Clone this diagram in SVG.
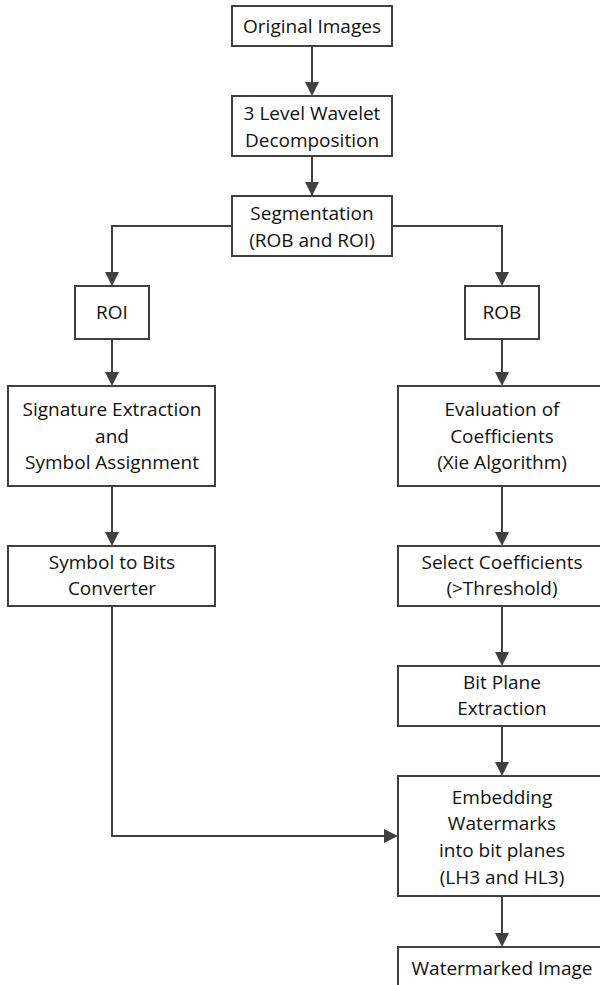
<svg xmlns="http://www.w3.org/2000/svg" width="600" height="985" viewBox="0 0 600 985">
<style>
.box{fill:#ffffff;stroke:#404040;stroke-width:2}
.lbl{font-family:"Open Sans","Liberation Sans",sans-serif;font-size:19px;fill:#111111;text-anchor:middle}
.con{fill:none;stroke:#404040;stroke-width:2;marker-end:url(#ah)}
</style>
<defs>
<marker id="ah" markerUnits="userSpaceOnUse" markerWidth="14" markerHeight="14" viewBox="0 0 14 14" refX="10" refY="7" orient="auto">
<path d="M0,0 L14,7 L0,14 z" fill="#404040"/>
</marker>
</defs>
<rect width="600" height="985" fill="#ffffff"/>
<g id="connectors">
<path class="con" d="M312,46 L312,92"/>
<path class="con" d="M312,156 L312,192"/>
<path class="con" d="M232,226 L112,226 L112,282"/>
<path class="con" d="M392,226 L502,226 L502,282"/>
<path class="con" d="M112,339 L112,382"/>
<path class="con" d="M112,486 L112,542"/>
<path class="con" d="M502,339 L502,382"/>
<path class="con" d="M502,486 L502,542"/>
<path class="con" d="M502,606 L502,662"/>
<path class="con" d="M502,726 L502,772"/>
<path class="con" d="M112,606 L112,836 L394,836"/>
<path class="con" d="M502,896 L502,943"/>
</g>
<g id="n1"><rect class="box" x="232" y="6" width="160" height="40"/><text class="lbl" x="312" y="33">Original Images</text></g>
<g id="n2"><rect class="box" x="232" y="96" width="160" height="60"/><text class="lbl" x="312" y="120">3 Level Wavelet</text><text class="lbl" x="312" y="147">Decomposition</text></g>
<g id="n3"><rect class="box" x="232" y="196" width="160" height="60"/><text class="lbl" x="312" y="220">Segmentation</text><text class="lbl" x="312" y="247">(ROB and ROI)</text></g>
<g id="n4"><rect class="box" x="75" y="286" width="74" height="53"/><text class="lbl" x="112" y="319">ROI</text></g>
<g id="n5"><rect class="box" x="465" y="286" width="74" height="53"/><text class="lbl" x="502" y="319">ROB</text></g>
<g id="n6"><rect class="box" x="8" y="386" width="207" height="100"/><text class="lbl" x="112" y="416">Signature Extraction</text><text class="lbl" x="112" y="443">and</text><text class="lbl" x="112" y="469">Symbol Assignment</text></g>
<g id="n7"><rect class="box" x="8" y="546" width="207" height="60"/><text class="lbl" x="112" y="569">Symbol to Bits</text><text class="lbl" x="112" y="595">Converter</text></g>
<g id="n8"><rect class="box" x="398" y="386" width="208" height="100"/><text class="lbl" x="502" y="416">Evaluation of</text><text class="lbl" x="502" y="443">Coefficients</text><text class="lbl" x="502" y="469">(Xie Algorithm)</text></g>
<g id="n9"><rect class="box" x="398" y="546" width="208" height="60"/><text class="lbl" x="502" y="569">Select Coefficients</text><text class="lbl" x="502" y="595">(&gt;Threshold)</text></g>
<g id="n10"><rect class="box" x="398" y="666" width="208" height="60"/><text class="lbl" x="502" y="689">Bit Plane</text><text class="lbl" x="502" y="715">Extraction</text></g>
<g id="n11"><rect class="box" x="398" y="776" width="208" height="120"/><text class="lbl" x="502" y="804">Embedding</text><text class="lbl" x="502" y="830">Watermarks</text><text class="lbl" x="502" y="857">into bit planes</text><text class="lbl" x="502" y="884">(LH3 and HL3)</text></g>
<g id="n12"><rect class="box" x="398" y="947" width="208" height="50"/><text class="lbl" x="502" y="975">Watermarked Image</text></g>
</svg>
